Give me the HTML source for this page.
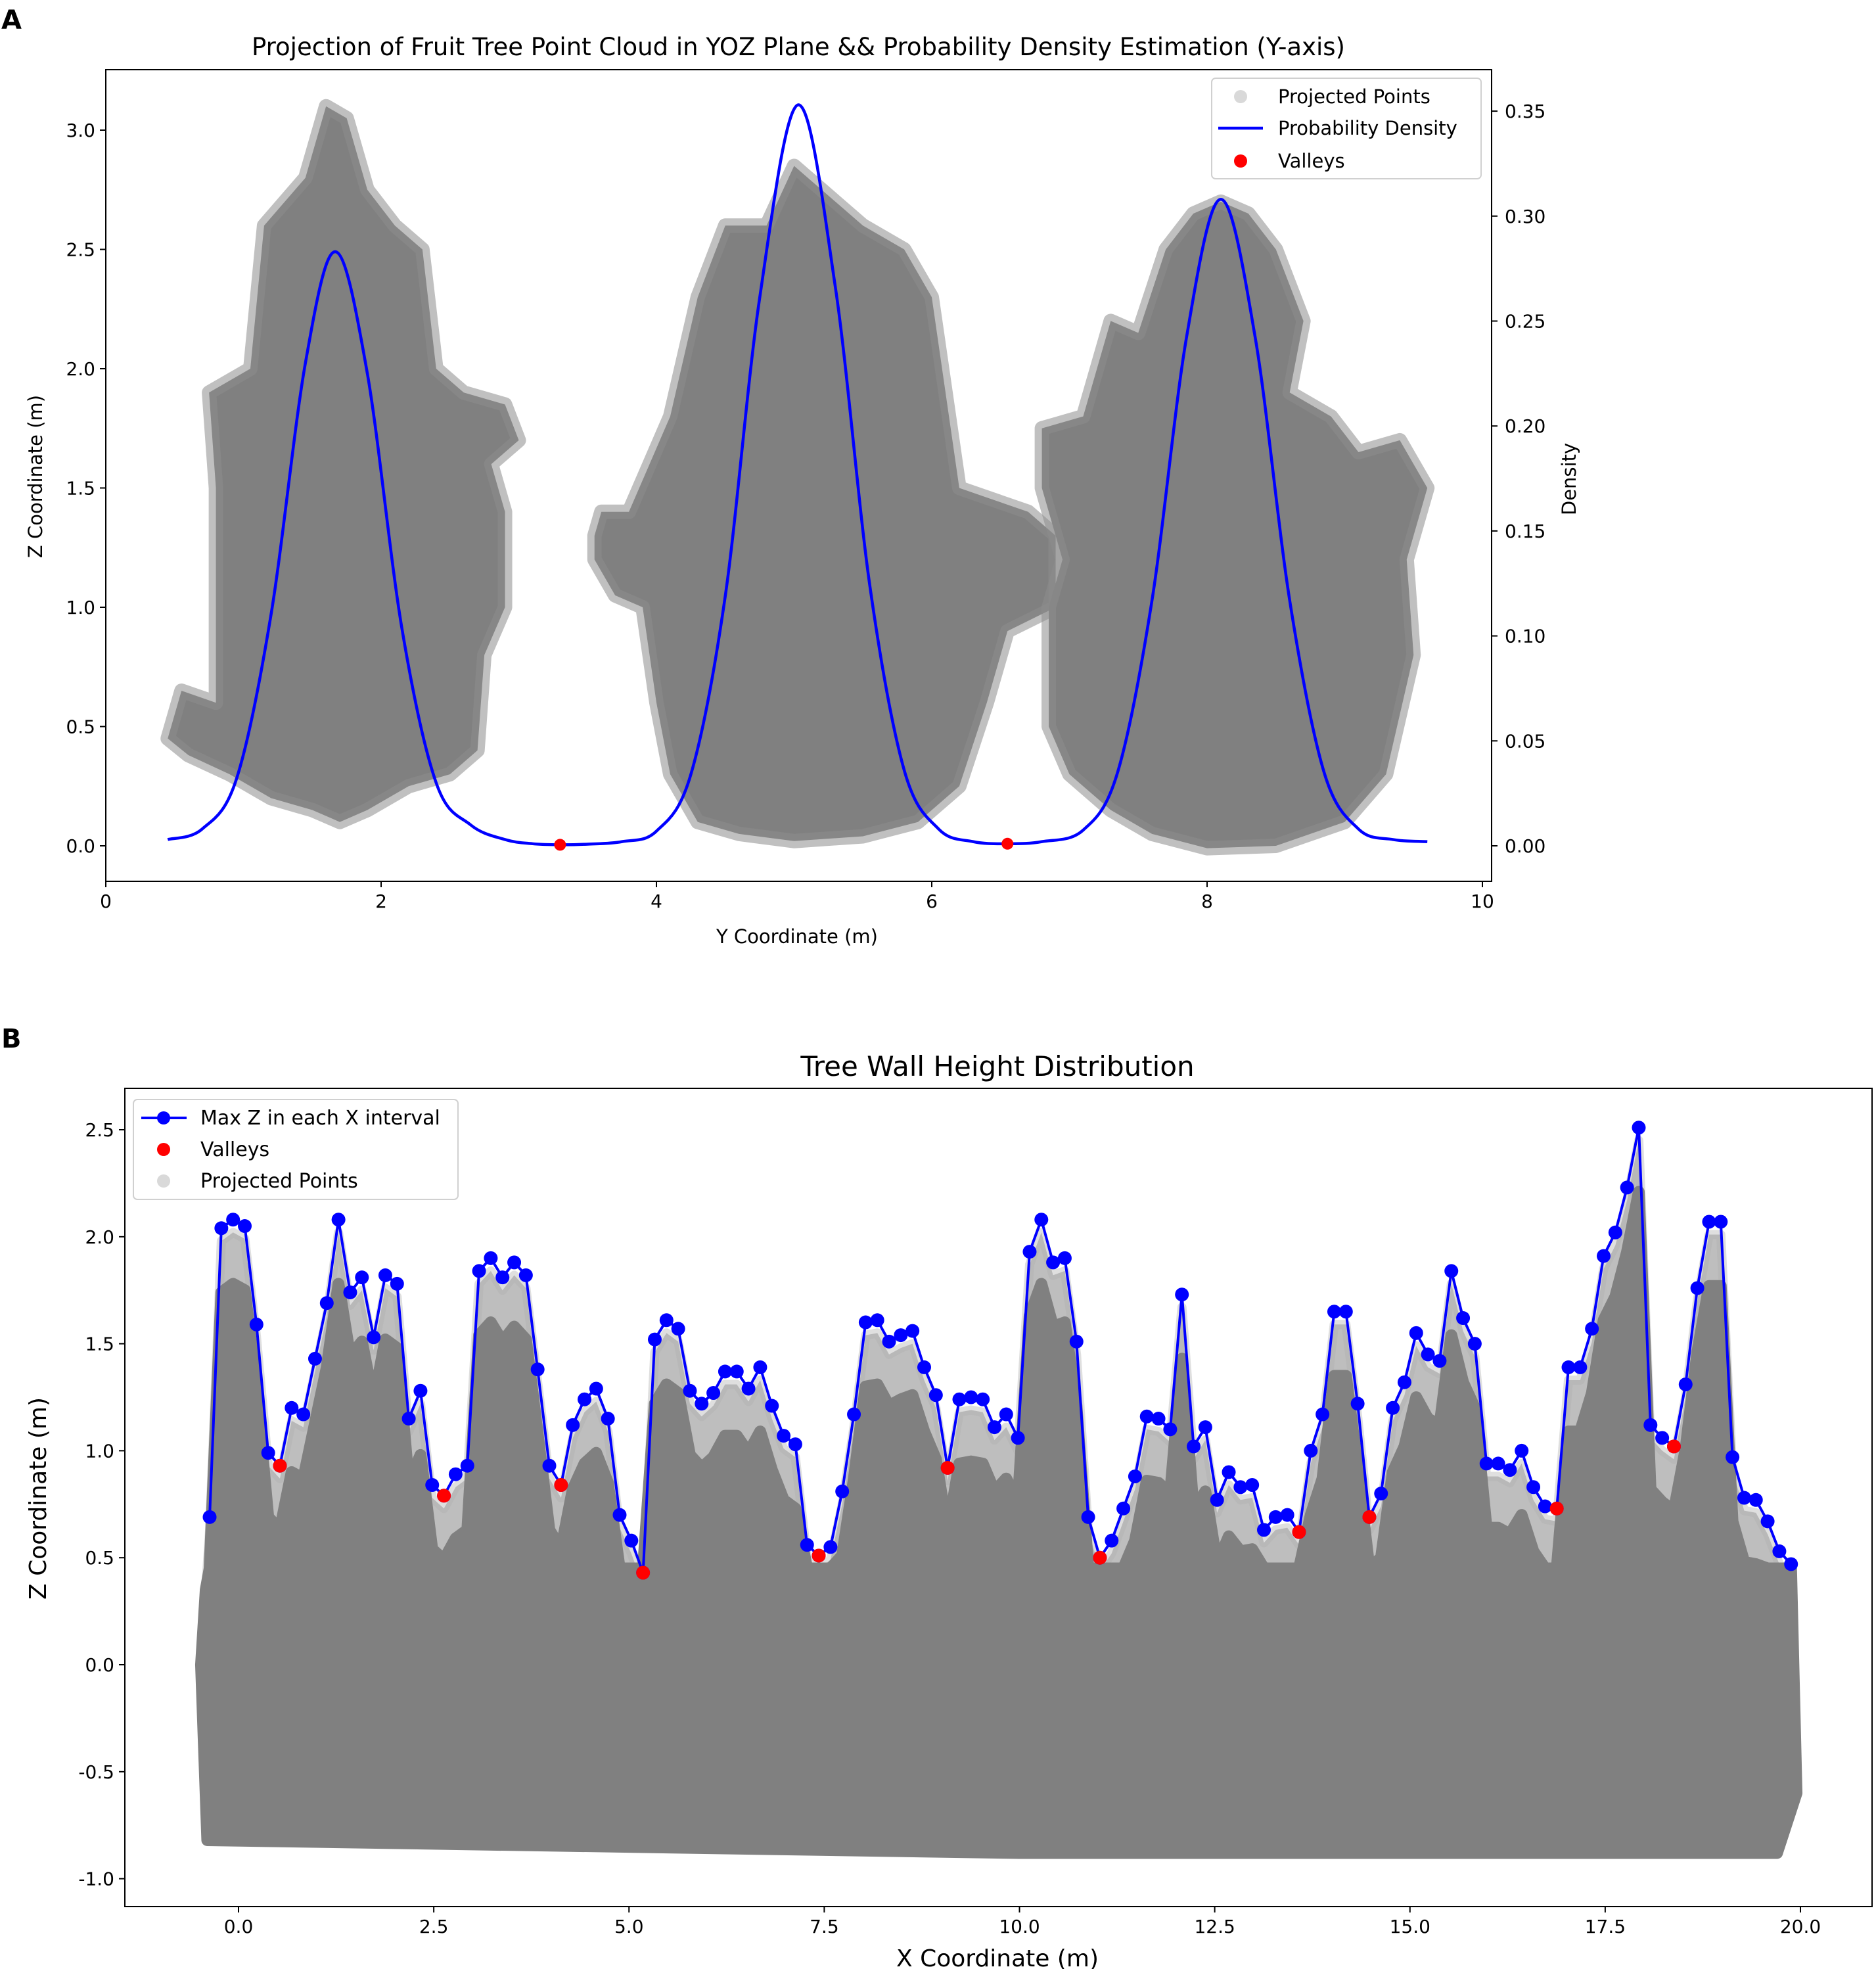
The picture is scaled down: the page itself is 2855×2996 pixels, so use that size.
<!DOCTYPE html>
<html><head><meta charset="utf-8">
<style>
html,body{margin:0;padding:0;background:#fff;}
svg{display:block;font-family:"DejaVu Sans","Liberation Sans",sans-serif;}
</style></head>
<body>
<svg id="fig" width="2855" height="2996" viewBox="0 0 2855 2996" xmlns="http://www.w3.org/2000/svg">
<rect width="2855" height="2996" fill="#fff"/>
<text x="2" y="44" font-size="40" font-weight="bold">A</text>
<text x="2" y="1594" font-size="40" font-weight="bold">B</text>
<g id="pa"></g>
<g id="pb"></g>
</svg>
<script>
// ---------- Panel A data ----------
const aXTicks = [0, 2, 4, 6, 8, 10];
const aZTicks = [0.0, 0.5, 1.0, 1.5, 2.0, 2.5, 3.0];
const aDTicks = [0.00, 0.05, 0.10, 0.15, 0.20, 0.25, 0.30, 0.35];
const densityY = [0.45,0.7,0.95,1.2,1.45,1.67,1.9,2.15,2.4,2.65,2.9,3.1,3.3,3.5,3.75,4.0,4.25,4.5,4.75,5.03,5.3,5.55,5.8,6.05,6.3,6.55,6.8,7.1,7.35,7.6,7.85,8.1,8.35,8.6,8.85,9.1,9.35,9.6];
const densityV = [0.003,0.008,0.032,0.110,0.230,0.283,0.225,0.104,0.030,0.010,0.003,0.001,0.0005,0.0008,0.002,0.007,0.034,0.119,0.261,0.353,0.266,0.124,0.036,0.008,0.002,0.001,0.002,0.0075,0.035,0.117,0.242,0.308,0.242,0.117,0.035,0.008,0.003,0.002];
const aValleyY = [3.30, 6.55];
const aValleyD = [0.0005, 0.001];
const tree1 = [[0.45,0.45],[0.55,0.65],[0.8,0.6],[0.8,1.5],[0.75,1.9],[1.05,2.0],[1.15,2.6],[1.45,2.8],[1.6,3.1],[1.75,3.05],[1.9,2.75],[2.1,2.6],[2.3,2.5],[2.4,2.0],[2.6,1.9],[2.9,1.85],[3.0,1.7],[2.8,1.6],[2.9,1.4],[2.9,1.0],[2.75,0.8],[2.7,0.4],[2.5,0.3],[2.2,0.25],[1.9,0.15],[1.7,0.1],[1.5,0.15],[1.2,0.2],[0.9,0.3],[0.6,0.38]];
const tree2 = [[3.55,1.3],[3.55,1.2],[3.7,1.05],[3.9,1.0],[4.0,0.6],[4.1,0.3],[4.3,0.1],[4.6,0.05],[5.0,0.02],[5.5,0.04],[5.9,0.1],[6.2,0.25],[6.4,0.6],[6.55,0.9],[6.9,1.0],[6.9,1.3],[6.7,1.4],[6.2,1.5],[6.1,1.9],[6.0,2.3],[5.8,2.5],[5.5,2.6],[5.3,2.7],[5.0,2.85],[4.8,2.6],[4.5,2.6],[4.3,2.3],[4.1,1.8],[3.95,1.6],[3.8,1.4],[3.6,1.4]];
const tree3 = [[6.85,0.5],[6.85,1.0],[6.95,1.2],[6.8,1.5],[6.8,1.75],[7.1,1.8],[7.3,2.2],[7.5,2.15],[7.7,2.5],[7.9,2.65],[8.1,2.7],[8.3,2.65],[8.5,2.5],[8.7,2.2],[8.6,1.9],[8.9,1.8],[9.1,1.65],[9.4,1.7],[9.6,1.5],[9.45,1.2],[9.5,0.8],[9.3,0.3],[9.0,0.1],[8.5,0.0],[8.0,-0.01],[7.6,0.05],[7.3,0.15],[7.0,0.3]];

// ---------- Panel B data ----------
const bXTicks = [0.0, 2.5, 5.0, 7.5, 10.0, 12.5, 15.0, 17.5, 20.0];
const bZTicks = [-1.0, -0.5, 0.0, 0.5, 1.0, 1.5, 2.0, 2.5];
const bXStart = -0.37;
const bXStep = 0.15;
const maxZ = [0.69,2.04,2.08,2.05,1.59,0.99,0.93,1.20,1.17,1.43,1.69,2.08,1.74,1.81,1.53,1.82,1.78,1.15,1.28,0.84,0.79,0.89,0.93,1.84,1.90,1.81,1.88,1.82,1.38,0.93,0.84,1.12,1.24,1.29,1.15,0.70,0.58,0.43,1.52,1.61,1.57,1.28,1.22,1.27,1.37,1.37,1.29,1.39,1.21,1.07,1.03,0.56,0.51,0.55,0.81,1.17,1.60,1.61,1.51,1.54,1.56,1.39,1.26,0.92,1.24,1.25,1.24,1.11,1.17,1.06,1.93,2.08,1.88,1.90,1.51,0.69,0.50,0.58,0.73,0.88,1.16,1.15,1.10,1.73,1.02,1.11,0.77,0.90,0.83,0.84,0.63,0.69,0.70,0.62,1.00,1.17,1.65,1.65,1.22,0.69,0.80,1.20,1.32,1.55,1.45,1.42,1.84,1.62,1.50,0.94,0.94,0.91,1.00,0.83,0.74,0.73,1.39,1.39,1.57,1.91,2.02,2.23,2.51,1.12,1.06,1.02,1.31,1.76,2.07,2.07,0.97,0.78,0.77,0.67,0.53,0.47];
const valleyX = [0.53,2.63,4.13,5.18,7.43,9.08,11.03,13.58,14.48,16.88,18.38];
const valleyZ = [0.93,0.79,0.84,0.43,0.51,0.92,0.50,0.62,0.69,0.73,1.02];

const NS = "http://www.w3.org/2000/svg";
function mk(parent, tag, attrs, text){
  const e = document.createElementNS(NS, tag);
  for (const k in attrs) e.setAttribute(k, attrs[k]);
  if (text !== undefined) e.textContent = text;
  parent.appendChild(e);
  return e;
}
function smooth(pts){
  let d = "M" + pts[0][0] + "," + pts[0][1];
  for (let i = 0; i < pts.length - 1; i++){
    const p0 = pts[Math.max(0,i-1)], p1 = pts[i], p2 = pts[i+1], p3 = pts[Math.min(pts.length-1,i+2)];
    const c1x = p1[0] + (p2[0]-p0[0])/6, c1y = p1[1] + (p2[1]-p0[1])/6;
    const c2x = p2[0] - (p3[0]-p1[0])/6, c2y = p2[1] - (p3[1]-p1[1])/6;
    d += " C" + c1x + "," + c1y + " " + c2x + "," + c2y + " " + p2[0] + "," + p2[1];
  }
  return d;
}

// ================= Panel A =================
(function(){
  const g = document.getElementById('pa');
  const L = 161, T = 106, R = 2270, B = 1341;
  const xs = v => 161 + v * 209.5;
  const ys = v => 1287 - v * 363;
  const ds = v => 1287 - v * 3194;
  [tree1, tree2, tree3].forEach((t, i) => {
    const p = mk(g, 'polygon', {points: t.map(q => xs(q[0]) + "," + ys(q[1])).join(" "), fill: '#808080', stroke: '#8c8c8c', 'stroke-width': 22, 'stroke-linejoin': 'round', 'stroke-opacity': 0.55});
    
    
  });
  const dp = mk(g, 'path', {d: smooth(densityY.map((y, i) => [xs(y), ds(densityV[i])])), fill: 'none', stroke: '#0000ff', 'stroke-width': 4.5, 'stroke-linejoin': 'round'});
  
  
  aValleyY.forEach((y, i) => {
    const c = mk(g, 'circle', {cx: xs(y), cy: ds(aValleyD[i]), r: 9, fill: '#ff0000'});
    
    
  });
  const fr = mk(g, 'rect', {x: L, y: T, width: R-L, height: B-T, fill: 'none', stroke: '#000', 'stroke-width': 2});
  
  
  aXTicks.forEach(v => {
    mk(g, 'line', {x1: xs(v), x2: xs(v), y1: B, y2: B+9, stroke: '#000', 'stroke-width': 2});
    const t = mk(g, 'text', {x: xs(v), y: B+40, 'font-size': 28, 'text-anchor': 'middle'}, String(v));
    
    
  });
  aZTicks.forEach(v => {
    mk(g, 'line', {x1: L-9, x2: L, y1: ys(v), y2: ys(v), stroke: '#000', 'stroke-width': 2});
    const t = mk(g, 'text', {x: L-16, y: ys(v)+10, 'font-size': 28, 'text-anchor': 'end'}, v.toFixed(1));
    
    
  });
  aDTicks.forEach(v => {
    mk(g, 'line', {x1: R, x2: R+9, y1: ds(v), y2: ds(v), stroke: '#000', 'stroke-width': 2});
    const t = mk(g, 'text', {x: R+20, y: ds(v)+10, 'font-size': 28}, v.toFixed(2));
    
    
  });
  let t;
  t = mk(g, 'text', {x: 1215, y: 84, 'font-size': 37, 'text-anchor': 'middle'}, 'Projection of Fruit Tree Point Cloud in YOZ Plane && Probability Density Estimation (Y-axis)');
   
  t = mk(g, 'text', {x: 1213, y: 1435, 'font-size': 29, 'text-anchor': 'middle'}, 'Y Coordinate (m)');
   
  t = mk(g, 'text', {x: 0, y: 0, 'font-size': 29, 'text-anchor': 'middle', transform: 'translate(64,725) rotate(-90)'}, 'Z Coordinate (m)');
   
  t = mk(g, 'text', {x: 0, y: 0, 'font-size': 29, 'text-anchor': 'middle', transform: 'translate(2398,729) rotate(-90)'}, 'Density');
   
  const lg = mk(g, 'g', {});
   
  mk(lg, 'rect', {x: 1844, y: 119, width: 410, height: 153, rx: 6, fill: '#fff', 'fill-opacity': 0.85, stroke: '#d0d0d0', 'stroke-width': 2});
  mk(lg, 'circle', {cx: 1888, cy: 147, r: 10, fill: '#808080', 'fill-opacity': 0.3});
  mk(lg, 'line', {x1: 1854, x2: 1922, y1: 195, y2: 195, stroke: '#0000ff', 'stroke-width': 4.5});
  mk(lg, 'circle', {cx: 1888, cy: 245, r: 10, fill: '#ff0000'});
  mk(lg, 'text', {x: 1945, y: 157, 'font-size': 29}, 'Projected Points');
  mk(lg, 'text', {x: 1945, y: 205, 'font-size': 29}, 'Probability Density');
  mk(lg, 'text', {x: 1945, y: 255, 'font-size': 29}, 'Valleys');
})();

// ================= Panel B =================
(function(){
  const g = document.getElementById('pb');
  const L = 190, T = 1656, R = 2849, B = 2901;
  const xs = v => 363 + v * 118.85;
  const ys = v => 2533 - v * 325.6;
  const xi = i => bXStart + i * bXStep;
  const top1 = maxZ.map((z, i) => [xs(xi(i)), ys(z - 0.06)]);
  const top2 = maxZ.map((z, i) => [xs(xi(i)), ys(Math.max(0.45, z - 0.3))]);
  const bot = [[xs(19.95), ys(-0.6)], [xs(19.7), ys(-0.88)], [xs(10), ys(-0.88)], [xs(-0.4), ys(-0.82)], [xs(-0.48), ys(0.0)], [xs(-0.42), ys(0.35)]];
  const p1 = mk(g, 'path', {d: 'M' + top1.concat(bot).map(p => p.join(',')).join(' L') + 'Z', fill: '#a8a8a8', 'fill-opacity': 0.75, stroke: '#b0b0b0', 'stroke-width': 14, 'stroke-linejoin': 'round', 'stroke-opacity': 0.4});
  
  
  const p2 = mk(g, 'path', {d: 'M' + top2.concat(bot).map(p => p.join(',')).join(' L') + 'Z', fill: '#808080', stroke: '#808080', 'stroke-width': 18, 'stroke-linejoin': 'round'});
  
  
  const ln = mk(g, 'polyline', {points: maxZ.map((z, i) => xs(xi(i)) + "," + ys(z)).join(" "), fill: 'none', stroke: '#0000ff', 'stroke-width': 4});
  
  
  maxZ.forEach((z, i) => {
    const c = mk(g, 'circle', {cx: xs(xi(i)), cy: ys(z), r: 10.5, fill: '#0000ff'});
    
    
  });
  valleyX.forEach((x, i) => {
    const c = mk(g, 'circle', {cx: xs(x), cy: ys(valleyZ[i]), r: 10.5, fill: '#ff0000'});
    
    
  });
  const fr = mk(g, 'rect', {x: L, y: T, width: R-L, height: B-T, fill: 'none', stroke: '#000', 'stroke-width': 2});
  
  
  bXTicks.forEach(v => {
    mk(g, 'line', {x1: xs(v), x2: xs(v), y1: B, y2: B+9, stroke: '#000', 'stroke-width': 2});
    const t = mk(g, 'text', {x: xs(v), y: B+40, 'font-size': 28, 'text-anchor': 'middle'}, v.toFixed(1));
    
    
  });
  bZTicks.forEach(v => {
    mk(g, 'line', {x1: L-9, x2: L, y1: ys(v), y2: ys(v), stroke: '#000', 'stroke-width': 2});
    const t = mk(g, 'text', {x: L-16, y: ys(v)+10, 'font-size': 28, 'text-anchor': 'end'}, v.toFixed(1));
    
    
  });
  let t;
  t = mk(g, 'text', {x: 1518, y: 1637, 'font-size': 42, 'text-anchor': 'middle'}, 'Tree Wall Height Distribution');
   
  t = mk(g, 'text', {x: 1518, y: 2992, 'font-size': 36, 'text-anchor': 'middle'}, 'X Coordinate (m)');
   
  t = mk(g, 'text', {x: 0, y: 0, 'font-size': 36, 'text-anchor': 'middle', transform: 'translate(70,2280) rotate(-90)'}, 'Z Coordinate (m)');
   
  const lg = mk(g, 'g', {});
   
  mk(lg, 'rect', {x: 203, y: 1673, width: 494, height: 152, rx: 6, fill: '#fff', 'fill-opacity': 0.85, stroke: '#d0d0d0', 'stroke-width': 2});
  mk(lg, 'line', {x1: 215, x2: 284, y1: 1701, y2: 1701, stroke: '#0000ff', 'stroke-width': 4});
  mk(lg, 'circle', {cx: 249, cy: 1701, r: 10, fill: '#0000ff'});
  mk(lg, 'circle', {cx: 249, cy: 1749, r: 10, fill: '#ff0000'});
  mk(lg, 'circle', {cx: 249, cy: 1797, r: 10, fill: '#808080', 'fill-opacity': 0.3});
  mk(lg, 'text', {x: 305, y: 1711, 'font-size': 30}, 'Max Z in each X interval');
  mk(lg, 'text', {x: 305, y: 1759, 'font-size': 30}, 'Valleys');
  mk(lg, 'text', {x: 305, y: 1807, 'font-size': 30}, 'Projected Points');
})();
</script>
</body></html>
